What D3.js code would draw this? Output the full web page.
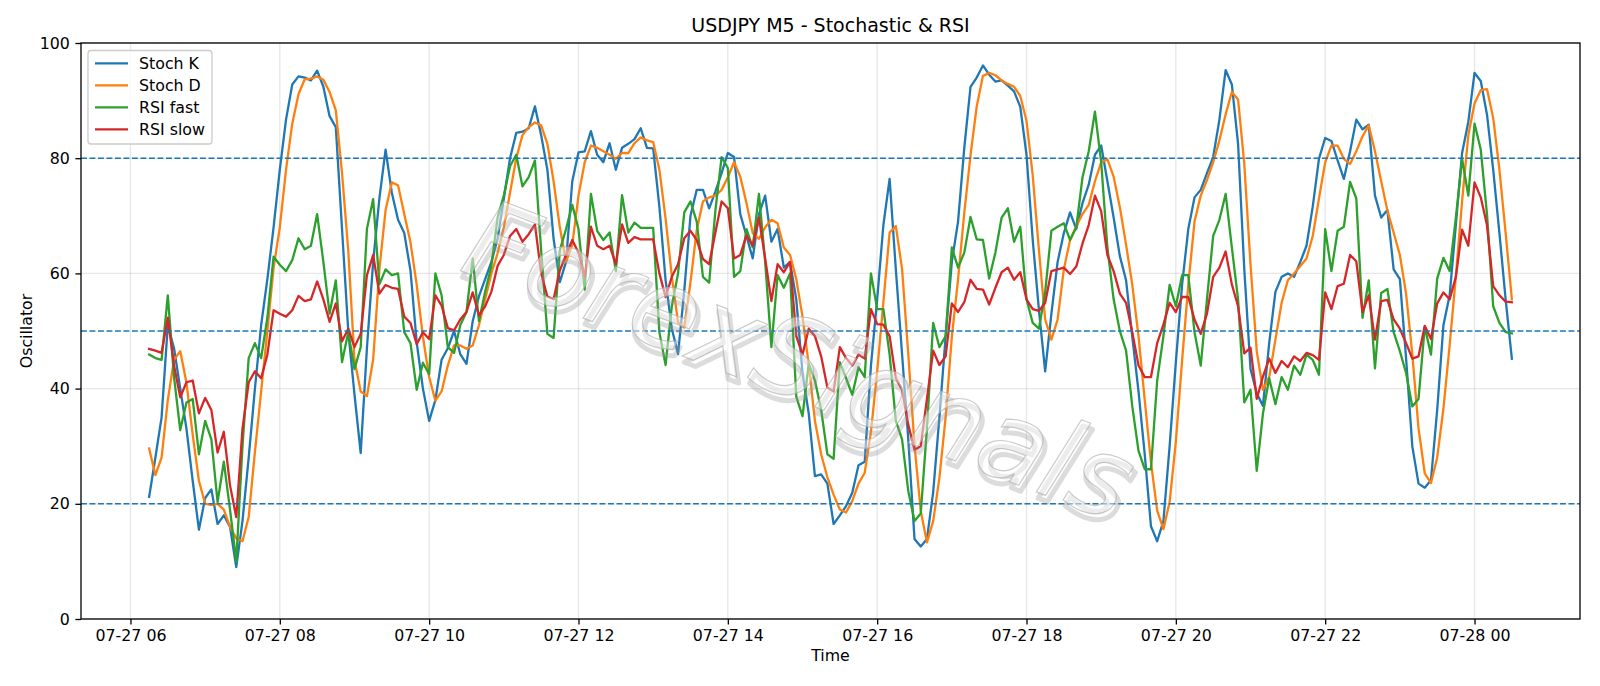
<!DOCTYPE html>
<html>
<head>
<meta charset="utf-8">
<script src="https://cdn.jsdelivr.net/npm/d3@7"></script>
<style>
  body { margin: 0; background: #ffffff; }
  svg { display: block; font-family: "DejaVu Sans", sans-serif; }
</style>
</head>
<body>
<svg id="chart" width="1600" height="686"></svg>
<script>
// ---------------- data ----------------
const startTime = Date.UTC(2024, 6, 27, 6, 15); // 07-27 06:15
const stepMinutes = 5;

const stochK = [
  21.2, 28, 35, 51, 47, 40, 33, 24, 15.5, 21,
  22.5, 16.5, 18, 16, 9, 17, 28, 40, 51, 59,
  68, 78, 86.7, 92.8, 94.2, 94, 93.5, 95.2, 92.4, 87.3,
  85.4, 67.7, 50, 39, 28.8, 47, 62, 73, 81.5, 74,
  69.3, 67, 60.5, 48, 40, 34.4, 38, 45, 47, 50,
  46, 44.3, 51.7, 56, 59, 62, 66, 73, 80, 84.4,
  84.6, 85.2, 89, 84, 78, 66, 58.5, 62, 76, 81,
  81.2, 84.7, 80.6, 79.3, 82.6, 78, 81.8, 82.5, 83.3, 85.2,
  81.8, 81.7, 71.6, 58.8, 50.4, 46, 57, 70, 74.5, 74.5,
  71.3, 74.2, 77.4, 80.9, 80.2, 70.3, 66.5, 62.6, 70.3, 73.5,
  65.5, 67.7, 61, 62, 55.5, 42.7, 35.7, 24.8, 25.1, 23.5,
  16.5, 18, 19.6, 21.9, 26.7, 27.3, 44, 55.5, 68.4, 76.4,
  60.7, 46, 31.2, 13.9, 12.6, 13.9, 22, 35, 49, 62,
  69, 81.8, 92.4, 94, 96.1, 94.5, 93.3, 93.5, 92.6, 91.6,
  88.9, 80.6, 65.8, 53.6, 43, 53, 62, 67, 70.6, 67.7,
  72.2, 75.4, 80.6, 82.2, 76, 69.7, 63, 58.8, 49, 39.5,
  28.6, 16.1, 13.5, 17, 30, 44.6, 58, 67.7, 73.2, 74.5,
  77.4, 80.2, 86.7, 95.3, 92.8, 82.5, 60.7, 43.4, 39.2, 37,
  47.9, 56.8, 59.4, 60, 59.4, 62, 64.8, 71.6, 79.9, 83.5,
  83, 79.6, 76.4, 81.2, 86.7, 85, 85.8, 73.5, 69.7, 71,
  60.7, 59, 45.3, 30, 23.5, 22.8, 24.1, 36.3, 51, 56.2,
  68.4, 80.9, 86.3, 94.8, 93.4, 87.6, 78, 67, 55.5, 45.2
];

const stochD = [
  29.6, 25, 28, 38, 45, 46.5, 41, 32, 24, 20,
  19.8, 20, 19, 16, 14, 13.5, 17.7, 29, 39.5, 50,
  61, 68, 78, 86, 91.1, 93.7, 93.8, 94.2, 93.6, 91.5,
  88.3, 77.4, 64, 45, 39.5, 38.7, 45, 60.7, 71, 75.8,
  75.3, 70.3, 65.4, 58, 49, 42, 37.9, 39.5, 44, 47.5,
  47.5, 46.9, 47.5, 51, 55.5, 60, 63.5, 68, 74, 80,
  84, 85.4, 86.2, 85.7, 82.5, 76, 68, 62, 65, 73.5,
  79.3, 82.2, 81.8, 81.2, 80.6, 79.9, 80.9, 80.9, 82.6, 83.6,
  83.1, 82.8, 78, 69.5, 59.5, 51.5, 50.6, 58.5, 67.5, 72.5,
  73.2, 73.5, 74.5, 76.7, 79.3, 76.8, 72.2, 67, 66, 68,
  69.3, 68.7, 64.5, 63.2, 59, 52.5, 44.2, 34.4, 28.6, 24.6,
  21.6, 19, 18.5, 20.5, 23.5, 25.4, 32.5, 43, 55, 67.1,
  68.2, 60.8, 46, 30.2, 18.8, 13.3, 17, 24.5, 35, 49,
  59, 70.5, 80.5, 89, 94.3, 94.8, 94.4, 93.5, 92.9, 92.4,
  90.8, 86.5, 77, 64, 52, 48.5, 52, 60.7, 65.8, 68.2,
  70.3, 71.9, 76, 79.3, 79.8, 76.8, 71.5, 65, 58, 49.1,
  38, 27.2, 18.8, 15.6, 20.3, 30.8, 44.8, 58, 69, 73.5,
  76.2, 79.3, 83.1, 87.6, 91.5, 90.2, 79, 61.5, 46.5, 39.8,
  42, 48.5, 54.9, 58.8, 60, 61.3, 62.6, 66.5, 73, 79.3,
  82.2, 82.2, 79.9, 79, 81.2, 83.8, 85.7, 81.2, 76, 70.9,
  67.1, 63.2, 56.5, 46, 33.1, 25.3, 23.6, 28, 36.5, 47.5,
  59.5, 72.5, 84, 89.5, 91.8, 92, 87, 78, 67, 55.5
];

const rsiFast = [
  45.9, 45.3, 45, 56.2, 42, 32.8, 37.6, 38.2, 28.6, 34.4,
  31.2, 20.3, 27.3, 19, 10, 30, 45.3, 47.9, 45.3, 52.3,
  62.9, 61.5, 60.4, 62.3, 66.1, 64.2, 64.8, 70.3, 62, 53,
  58.8, 44.6, 49.8, 43.4, 47.2, 67.7, 72.9, 58.1, 60.7, 59.7,
  60, 49.8, 47.9, 39.8, 44.5, 42.5, 60, 56.2, 47.2, 46.2,
  51, 53.3, 62.6, 51.7, 56.8, 61.3, 69.7, 73.5, 78.6, 80.6,
  75.1, 76.7, 79.6, 64, 49.5, 48.8, 64, 67.7, 71.9, 67.7,
  57.2, 73.8, 67.4, 65.8, 67.1, 60.4, 73.6, 67.1, 68.8, 67.9,
  67.9, 67.9, 49.8, 44.1, 54.3, 60, 70.6, 72.5, 69, 59.4,
  58.4, 70.9, 80.2, 78.3, 59.4, 60.4, 67.7, 64.5, 73.8, 62,
  47.2, 59.7, 57.5, 60, 38.6, 35.2, 44.3, 41.4, 36.3, 28.6,
  27.8, 44.6, 41.8, 38.9, 43.7, 42, 60, 53.8, 53.8, 45.9,
  34.4, 31.2, 22.2, 17, 18.3, 33.1, 51.4, 47.2, 49.1, 64.5,
  61, 63.6, 69.8, 65.9, 65.8, 59.1, 63.6, 69.7, 71.3, 65.5,
  68.1, 55.5, 51.4, 50.4, 56.8, 67.4, 68.1, 68.7, 65.8, 68,
  76.7, 81.2, 88.1, 79.3, 64.5, 55.5, 50, 46.6, 36.9, 29.2,
  26, 26, 41.4, 49.1, 58, 54.3, 59.7, 59.7, 49.8, 44,
  55.5, 66.5, 69.3, 73.8, 64.5, 55.5, 37.6, 39.8, 25.7, 35.7,
  41.8, 37.3, 42, 39.8, 44, 42.4, 45.9, 45, 42.4, 67.7,
  60.4, 67.4, 68.1, 75.9, 73, 52.3, 58.8, 43.5, 56.6, 57.3,
  49.8, 46.5, 42.7, 36.9, 38.2, 50.7, 45.9, 59.1, 62.7, 60.4,
  69.7, 79.9, 73.5, 86, 81.5, 70.3, 54.3, 51.4, 49.8, 49.6
];

const rsiSlow = [
  46.9, 46.6, 46.2, 52.3, 44, 38.5, 41.1, 41.4, 35.7, 38.4,
  36.3, 28.9, 32.5, 23.2, 17.7, 33, 41.1, 43, 41.8, 45.9,
  53.6, 53, 52.5, 53.6, 56.1, 55.2, 55.5, 58.6, 55.5, 51.6,
  54.8, 48.2, 50.4, 47.2, 49.5, 59.7, 63.2, 56.5, 58, 57.5,
  57.3, 52.5, 51.4, 47.7, 49.8, 48.6, 56.2, 54.4, 50.5, 50.1,
  52, 53.3, 56.7, 52.7, 54.3, 56.8, 61.3, 63.2, 66.5, 67.7,
  65.5, 66.8, 68.5, 60, 56, 55.5, 60.5, 63.2, 65.8, 63.6,
  59.4, 68.1, 64.8, 64.2, 64.8, 61.6, 68.5, 65.3, 66.3, 65.9,
  65.9, 65.9, 60, 55.9, 59.4, 61.6, 66.1, 67.4, 65.8, 62.5,
  61.6, 67.1, 72.5, 71.3, 62.6, 63.2, 66.6, 64.8, 69.7, 62.6,
  55.2, 61.6, 60.2, 62, 49.1, 45.9, 50.4, 49.1, 45.6, 40.2,
  39.5, 47.2, 45.3, 44, 45.9, 45.2, 53.8, 51.2, 51.1, 49.1,
  41.8, 39.8, 33.7, 29.4, 30, 38.2, 46.6, 44.1, 45.6, 54.8,
  53.3, 55, 58.9, 57.3, 57.2, 54.6, 57.5, 60.2, 61, 58.9,
  60.2, 55.5, 53.8, 53.5, 54.9, 60.4, 60.7, 61, 59.9, 61.2,
  65.2, 68.4, 73.5, 70.8, 63.2, 60.4, 56.5, 54.9, 49.8, 44,
  42, 42, 47.9, 51.1, 54.9, 53.3, 55.9, 55.9, 52, 49.5,
  53, 59.4, 61, 63.8, 58.1, 54.3, 46.1, 47.1, 38.2, 42.1,
  45.2, 42.7, 44.8, 43.7, 45.6, 44.8, 46.2, 45.8, 45, 56.7,
  53.8, 57.8, 58.2, 63.2, 62.1, 53.3, 56.2, 48.5, 55.2, 55.4,
  52, 50.4, 47.9, 45.2, 45.6, 50.9, 48.6, 54.8, 56.7, 55.5,
  59.4, 67.6, 64.8, 75.8, 73.2, 68.4, 57.8, 56.2, 55.1, 55
];

const seriesNames = ["Stoch K", "Stoch D", "RSI fast", "RSI slow"];
const seriesColors = ["#1f77b4", "#ff7f0e", "#2ca02c", "#d62728"];
const seriesValues = [stochK, stochD, rsiFast, rsiSlow];

const xTickHours = [6, 8, 10, 12, 14, 16, 18, 20, 22, 24];
const xTickLabels = ["07-27 06", "07-27 08", "07-27 10", "07-27 12", "07-27 14",
                     "07-27 16", "07-27 18", "07-27 20", "07-27 22", "07-28 00"];
const yTicks = [0, 20, 40, 60, 80, 100];
const levelLines = [20, 50, 80];

const titleText = "USDJPY M5 - Stochastic & RSI";
const xLabelText = "Time";
const yLabelText = "Oscillator";
const watermarkText = "ForexSignals";

// ---------------- layout ----------------
const plotLeft = 81, plotRight = 1580, plotTop = 43, plotBottom = 619;
const fontSize = 15.8;

const times = stochK.map((_, i) => new Date(startTime + i * stepMinutes * 60000));
const t0 = +times[0], t1 = +times[times.length - 1];
const span = t1 - t0;

const x = d3.scaleUtc()
  .domain([new Date(t0 - 0.05 * span), new Date(t1 + 0.05 * span)])
  .range([plotLeft, plotRight]);
const y = d3.scaleLinear().domain([0, 100]).range([plotBottom, plotTop]);

const xTickDates = xTickHours.map(h => new Date(Date.UTC(2024, 6, 27, h, 0)));

const svg = d3.select("#chart");
svg.append("rect").attr("width", 1600).attr("height", 686).attr("fill", "#ffffff");

// grid
const grid = svg.append("g").attr("class", "grid");
grid.selectAll("line.vg").data(xTickDates).join("line")
  .attr("x1", d => x(d)).attr("x2", d => x(d))
  .attr("y1", plotTop).attr("y2", plotBottom)
  .attr("stroke", "#b0b0b0").attr("stroke-opacity", 0.3).attr("stroke-width", 1.3);
grid.selectAll("line.hg").data(yTicks).join("line")
  .attr("x1", plotLeft).attr("x2", plotRight)
  .attr("y1", d => y(d)).attr("y2", d => y(d))
  .attr("stroke", "#b0b0b0").attr("stroke-opacity", 0.3).attr("stroke-width", 1.3);

// series lines
const line = d3.line().x((d, i) => x(times[i])).y(d => y(d));
const linesG = svg.append("g");
seriesValues.forEach((vals, k) => {
  linesG.append("path")
    .datum(vals)
    .attr("d", line)
    .attr("fill", "none")
    .attr("stroke", seriesColors[k])
    .attr("stroke-width", 2.3)
    .attr("stroke-linejoin", "round")
    .attr("stroke-linecap", "square");
});

// level lines
svg.append("g").selectAll("line").data(levelLines).join("line")
  .attr("x1", plotLeft).attr("x2", plotRight)
  .attr("y1", d => y(d)).attr("y2", d => y(d))
  .attr("stroke", "#1f77b4").attr("stroke-width", 1.5)
  .attr("stroke-dasharray", "5.9,2.6");

// axes
const xAxis = d3.axisBottom(x)
  .tickValues(xTickDates)
  .tickFormat((d, i) => xTickLabels[i])
  .tickSize(5.6).tickPadding(5.6).tickSizeOuter(0);
const yAxis = d3.axisLeft(y)
  .tickValues(yTicks)
  .tickFormat(d3.format("d"))
  .tickSize(5.6).tickPadding(5.6).tickSizeOuter(0);

const gx = svg.append("g").attr("transform", `translate(0,${plotBottom})`).call(xAxis);
const gy = svg.append("g").attr("transform", `translate(${plotLeft},0)`).call(yAxis);
[gx, gy].forEach(g => {
  g.select(".domain").remove();
  g.selectAll(".tick line").attr("stroke", "#000").attr("stroke-width", 1.3);
  g.selectAll(".tick text").attr("fill", "#000")
    .style("font-family", '"DejaVu Sans", sans-serif').style("font-size", fontSize + "px");
});

// frame
svg.append("rect")
  .attr("x", plotLeft).attr("y", plotTop)
  .attr("width", plotRight - plotLeft).attr("height", plotBottom - plotTop)
  .attr("fill", "none").attr("stroke", "#000").attr("stroke-width", 1.3);

// watermark (outlined text with soft drop shadow)
const wm = svg.append("g")
  .attr("transform", "translate(800,360) rotate(21)")
  .style("font-family", '"DejaVu Sans", sans-serif')
  .style("font-size", "110px").style("font-style", "italic");
wm.append("text").text(watermarkText)
  .attr("x", 4).attr("y", 5).attr("text-anchor", "middle").attr("dy", "0.35em")
  .attr("fill", "none")
  .attr("stroke", "#9a9a9a").attr("stroke-width", 5).attr("stroke-opacity", 0.35)
  .attr("stroke-linejoin", "round");
wm.append("text").text(watermarkText)
  .attr("text-anchor", "middle").attr("dy", "0.35em")
  .attr("fill", "#ffffff").attr("fill-opacity", 0.45)
  .attr("stroke", "#a8a8a8").attr("stroke-width", 1.2).attr("stroke-opacity", 0.6);

// title & labels
svg.append("text").text(titleText)
  .attr("x", (plotLeft + plotRight) / 2).attr("y", 32)
  .attr("text-anchor", "middle").style("font-size", "19px").attr("fill", "#000");
svg.append("text").text(xLabelText)
  .attr("x", (plotLeft + plotRight) / 2).attr("y", 661)
  .attr("text-anchor", "middle").style("font-size", fontSize + "px").attr("fill", "#000");
svg.append("text").text(yLabelText)
  .attr("transform", `translate(32,${(plotTop + plotBottom) / 2}) rotate(-90)`)
  .attr("text-anchor", "middle").style("font-size", fontSize + "px").attr("fill", "#000");

// legend
const lg = svg.append("g");
lg.append("rect")
  .attr("x", 88).attr("y", 50.5).attr("width", 124).attr("height", 93.5)
  .attr("rx", 3).attr("fill", "#ffffff").attr("fill-opacity", 0.8)
  .attr("stroke", "#cccccc").attr("stroke-width", 1.3);
seriesNames.forEach((name, k) => {
  const yy = 63.3 + k * 22;
  lg.append("line").attr("x1", 95).attr("x2", 128).attr("y1", yy).attr("y2", yy)
    .attr("stroke", seriesColors[k]).attr("stroke-width", 2.3);
  lg.append("text").text(name).attr("x", 139).attr("y", yy).attr("dy", "0.36em")
    .style("font-size", fontSize + "px").attr("fill", "#000");
});
</script>
</body>
</html>
